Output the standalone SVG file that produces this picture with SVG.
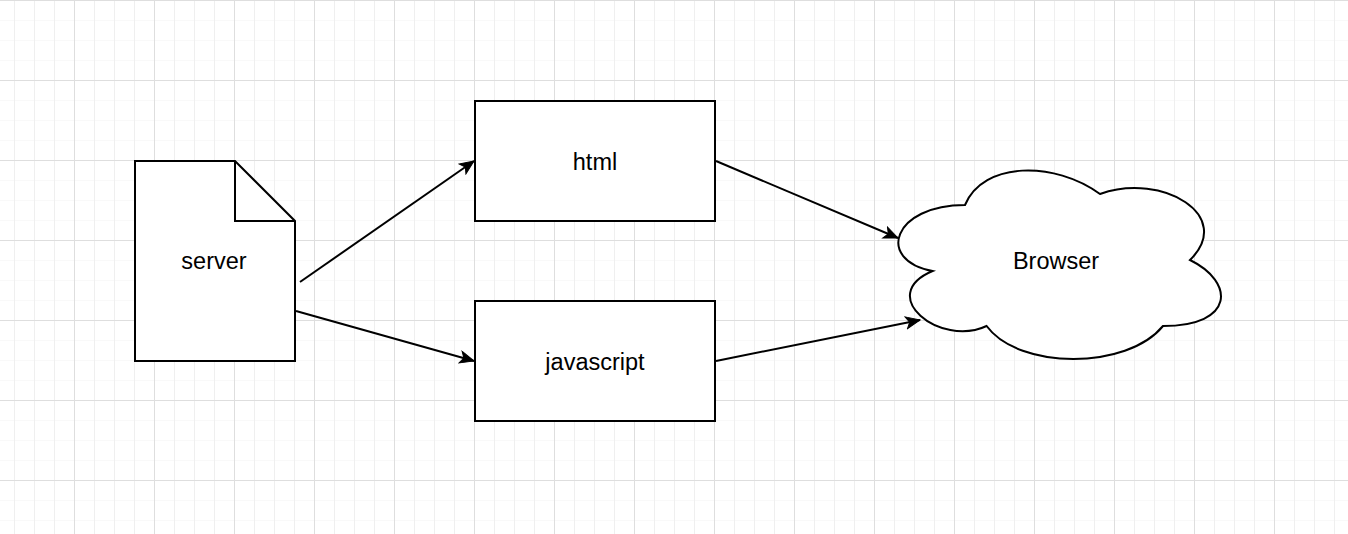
<svg xmlns="http://www.w3.org/2000/svg" width="1348" height="534" viewBox="0 0 1348 534">
  <style>
    .shape { fill: #ffffff; stroke: #000000; stroke-width: 2; }
    .fold { fill: none; stroke: #000000; stroke-width: 2; }
    .edge { fill: none; stroke: #000000; stroke-width: 2; }
    .label { font-family: "Liberation Sans", Arial, sans-serif; font-size: 23.5px; fill: #000000; text-anchor: middle; }
  </style>
  <defs>
    <pattern id="grid" width="80" height="80" patternUnits="userSpaceOnUse" x="74" y="0">
      <rect x="0" y="20" width="80" height="1" fill="#f9f9f9"/>
      <rect x="0" y="40" width="80" height="1" fill="#f9f9f9"/>
      <rect x="0" y="60" width="80" height="1" fill="#f9f9f9"/>
      <rect x="20" y="0" width="1" height="80" fill="#efefef"/>
      <rect x="40" y="0" width="1" height="80" fill="#efefef"/>
      <rect x="60" y="0" width="1" height="80" fill="#efefef"/>
      <rect x="0" y="0" width="80" height="1" fill="#dedede"/>
      <rect x="0" y="0" width="1" height="80" fill="#dedede"/>
    </pattern>
    <marker id="arrow" viewBox="-15 -7 16 14" refX="0" refY="0" markerWidth="16" markerHeight="14" markerUnits="userSpaceOnUse" orient="auto">
      <path d="M0,0 L-14,-6 L-10.5,0 L-14,6 Z" fill="#000000" stroke="#000000" stroke-width="1" stroke-linejoin="miter"/>
    </marker>
  </defs>
  <rect x="0" y="0" width="1348" height="534" fill="#ffffff"/>
  <rect x="0" y="0" width="1348" height="534" fill="url(#grid)"/>

  <g id="connectors">
    <line class="edge" x1="300" y1="282" x2="474" y2="161" marker-end="url(#arrow)"/>
    <line class="edge" x1="296" y1="311" x2="474" y2="361" marker-end="url(#arrow)"/>
    <line class="edge" x1="716" y1="161" x2="898" y2="238" marker-end="url(#arrow)"/>
    <line class="edge" x1="716" y1="361" x2="920" y2="320" marker-end="url(#arrow)"/>
  </g>

  <g id="server">
    <path class="shape" d="M135,161 L235,161 L295,221 L295,361 L135,361 Z"/>
    <path class="fold" d="M235,161 L235,221 L295,221"/>
    <text class="label" x="214" y="269">server</text>
  </g>

  <g id="html">
    <rect class="shape" x="475" y="101" width="240" height="120"/>
    <text class="label" x="595" y="170">html</text>
  </g>

  <g id="javascript">
    <rect class="shape" x="475" y="301" width="240" height="120"/>
    <text class="label" x="595" y="370">javascript</text>
  </g>

  <g id="browser">
    <path class="shape" d="M965,205 C893,205 875,260 932.6,271 C875,295.2 939.8,348 986.6,326 C1019,370 1127,370 1163,326 C1235,326 1235,282 1190,260 C1235,216 1163,172 1100,194 C1055,161 983,161 965,205 Z"/>
    <text class="label" x="1056" y="269">Browser</text>
  </g>
</svg>
